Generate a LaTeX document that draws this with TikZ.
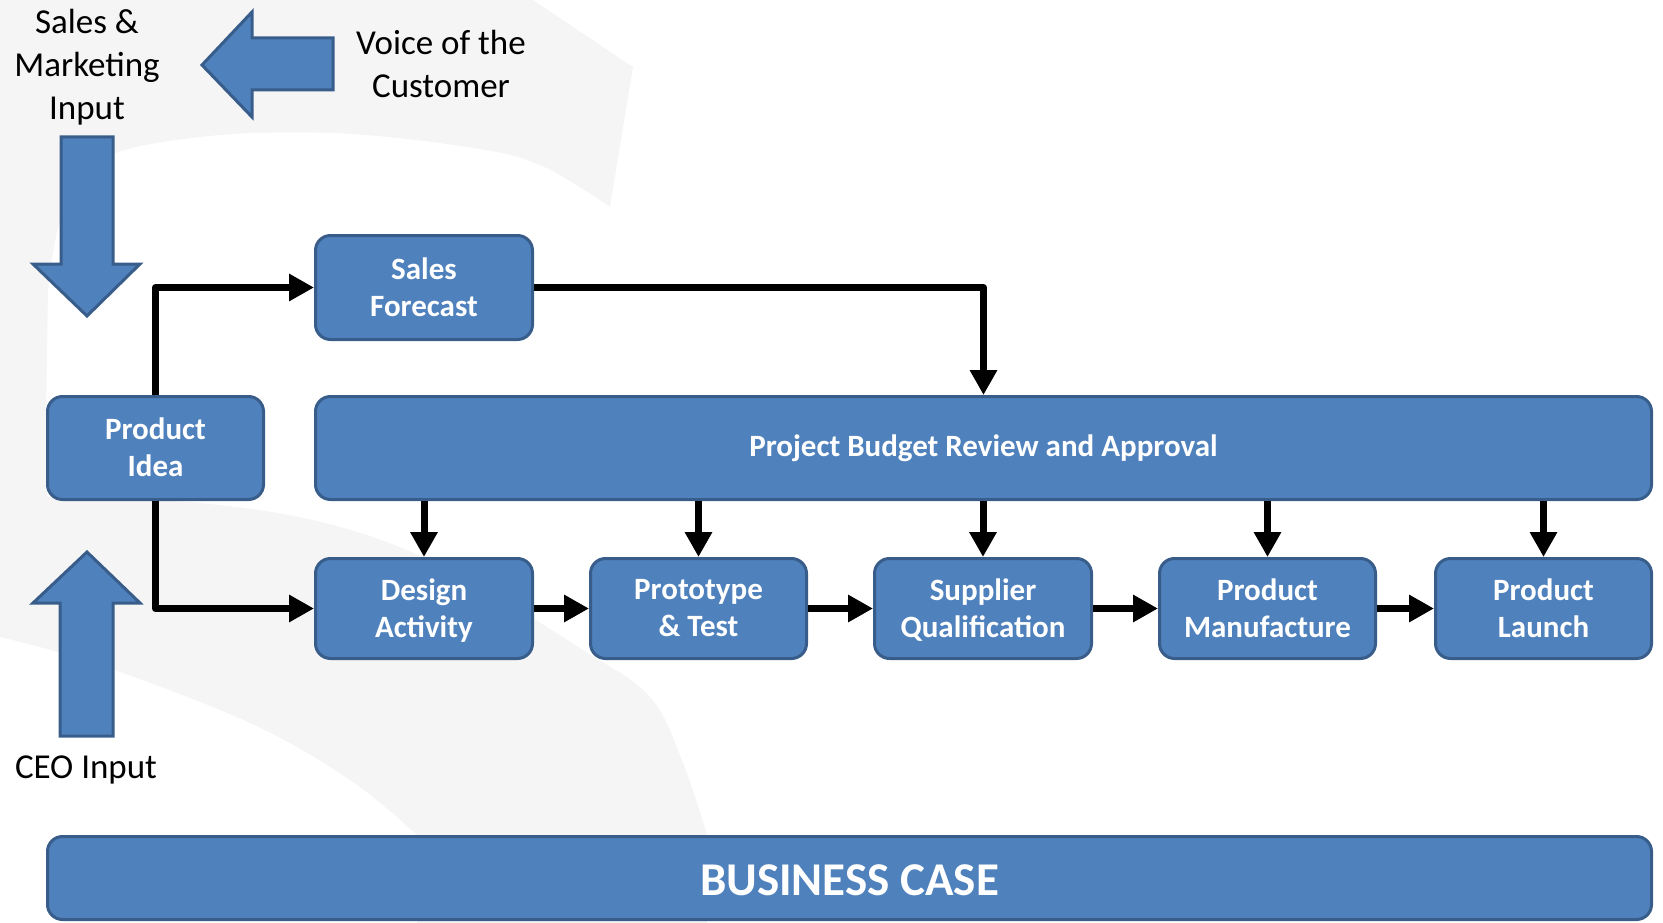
\documentclass[tikz,border=0pt]{standalone}
\usepackage{fontspec}
\setmainfont{Carlito}
\usetikzlibrary{arrows.meta}
\definecolor{boxblue}{RGB}{79,129,189}
\definecolor{boxedge}{RGB}{56,93,138}
\definecolor{wash}{RGB}{245,245,245}
\begin{document}
\begin{tikzpicture}[x=1pt,y=-1pt,
  box/.style={rectangle, rounded corners=15pt, fill=boxblue, draw=boxedge, line width=3pt,
    text=white, align=center, inner sep=0pt, font=\fontsize{31}{37}\selectfont\bfseries,
    text depth=1pt},
  conn/.style={line width=7pt, -{Triangle[length=25pt,width=26pt]}, line join=round},
  blockarrow/.style={fill=boxblue, draw=boxedge, line width=3pt, line join=miter},
  plainlabel/.style={align=center, font=\fontsize{35}{43}\selectfont, text=black, inner sep=0pt}]
\useasboundingbox (0,0) rectangle (1663,923);
% background watermark
\fill[wash] (0,0) -- (533,0) -- (633,67) -- (610,207)
  -- plot[smooth, tension=0.6] coordinates {(610,207) (540,165) (467,147) (333,133) (200,137) (100,160) (62,215) (48,290)}
  -- (46,420)
  -- plot[smooth, tension=0.6] coordinates {(47,497) (200,503) (333,525) (450,570) (583,650) (650,697) (683,763) (707,835)}
  -- (707,923) -- (417,923) -- (417,835)
  -- plot[smooth, tension=0.6] coordinates {(417,835) (350,780) (250,723) (100,665) (0,637)}
  -- cycle;
% block arrows
\draw[blockarrow] (333,38) -- (252,38) -- (252,12) -- (202,65) -- (252,117) -- (252,90) -- (333,90) -- cycle;
\draw[blockarrow] (61,137) -- (113,137) -- (113,264) -- (140,264) -- (87,316) -- (33,264) -- (61,264) -- cycle;
\draw[blockarrow] (87,552) -- (140,603) -- (113,603) -- (113,736) -- (60,736) -- (60,603) -- (33,603) -- cycle;
% labels
\node[plainlabel] (smi) at (87,67) {Sales \&\\Marketing\\Input};
\node[plainlabel] (voc) at (441,64) {Voice of the\\Customer};
\node[plainlabel] (ceo) at (86,770) {CEO Input};
% boxes
\node[box, minimum width=217, minimum height=104] (sf) at (424,287.5) {Sales\\Forecast};
\node[box, minimum width=216, minimum height=103] (pi) at (155.5,448) {Product\\Idea};
\node[box, minimum width=1336, minimum height=103, text depth=4pt] (bud) at (983.5,448) {Project Budget Review and Approval};
\node[box, minimum width=217, minimum height=100] (da) at (424,608.5) {Design\\Activity};
\node[box, minimum width=216, minimum height=100] (pt) at (698.5,608.5) {Prototype\\\& Test};
\node[box, minimum width=217, minimum height=100] (sq) at (983,608.5) {Supplier\\Qualification};
\node[box, minimum width=216, minimum height=100] (pm) at (1267.5,608.5) {Product\\Manufacture};
\node[box, minimum width=216, minimum height=100] (pl) at (1543.5,608.5) {Product\\Launch};
\node[box, minimum width=1604, minimum height=83, font=\fontsize{47}{56}\selectfont\bfseries, execute at begin node={\rule{0pt}{36.4pt}}] (bc) at (849.5,878) {BUSINESS CASE};
% connectors
\draw[conn] (pi.north) |- (sf.west);
\draw[conn] (pi.south) |- (da.west);
\draw[conn] (sf.east) -| (bud.north);
\foreach \b in {da,pt,sq,pm,pl}{
  \draw[conn] (bud.south -| \b.north) -- (\b.north);
}
\draw[conn] (da.east) -- (pt.west);
\draw[conn] (pt.east) -- (sq.west);
\draw[conn] (sq.east) -- (pm.west);
\draw[conn] (pm.east) -- (pl.west);
\end{tikzpicture}
\end{document}
